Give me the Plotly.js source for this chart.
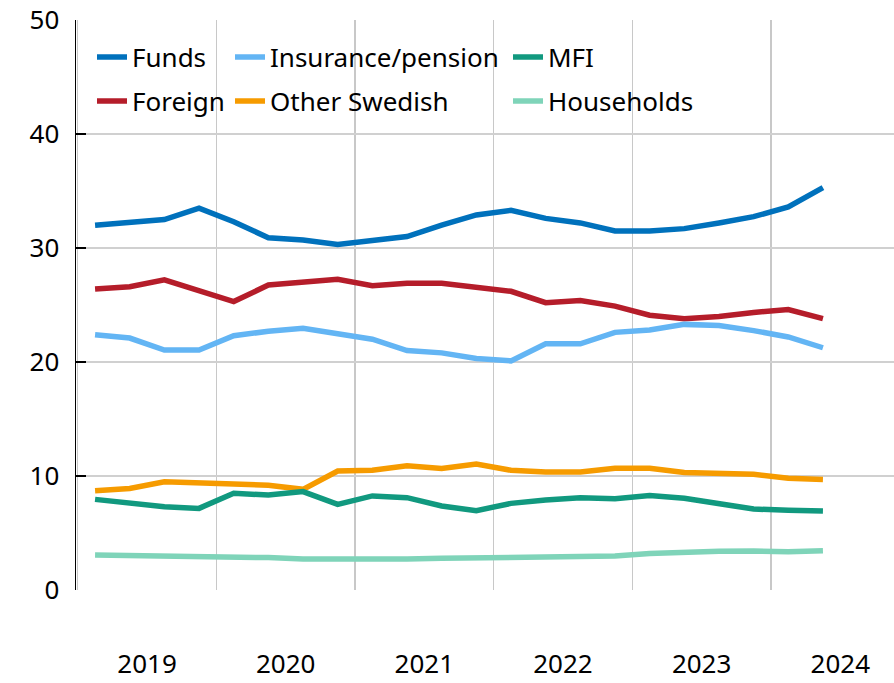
<!DOCTYPE html>
<html>
<head>
<meta charset="utf-8">
<script src="https://cdn.plot.ly/plotly-3.0.1.min.js"></script>
<style>
  html, body { margin: 0; padding: 0; background: #fff; }
  #chart { width: 894px; height: 683px; }
</style>
</head>
<body>
<div id="chart"></div>
<script>
// Quarterly observations, 2019 Q1 – 2024 Q2 (per cent)
const quarters = ["2019Q1","2019Q2","2019Q3","2019Q4","2020Q1","2020Q2","2020Q3","2020Q4",
  "2021Q1","2021Q2","2021Q3","2021Q4","2022Q1","2022Q2","2022Q3","2022Q4",
  "2023Q1","2023Q2","2023Q3","2023Q4","2024Q1","2024Q2"];
const yearLabels = ["2019","2020","2021","2022","2023","2024"];

const funds     = [32.0,32.25,32.5,33.5,32.3,30.9,30.7,30.3,30.6,31.0,32.0,32.9,33.3,32.6,32.2,31.5,31.5,31.7,32.2,32.75,33.6,35.3];
const foreign   = [26.4,26.6,27.2,26.3,25.3,26.75,26.95,27.25,26.7,26.9,26.9,26.6,26.2,25.2,25.4,24.9,24.1,23.8,24.0,24.35,24.6,23.8];
const insurance = [22.4,22.1,21.05,21.05,22.3,22.7,22.95,22.5,22.0,21.0,20.8,20.3,20.1,21.6,21.6,22.6,22.8,23.3,23.2,22.75,22.2,21.25];
const otherSwe  = [8.7,8.9,9.5,9.45,9.3,9.18,8.83,10.44,10.5,10.9,10.65,11.05,10.5,10.35,10.35,10.67,10.67,10.3,10.18,10.15,9.8,9.7];
const mfi       = [7.95,7.66,7.3,7.16,8.48,8.33,8.63,7.51,8.25,8.1,7.37,6.96,7.6,7.9,8.1,8.0,8.28,8.04,7.6,7.1,7.0,6.93];
const households= [3.07,3.04,2.98,2.9,2.86,2.84,2.72,2.69,2.63,2.72,2.78,2.84,2.84,2.9,2.95,2.98,3.21,3.33,3.39,3.42,3.36,3.45];

const xIdx = quarters.map((q, i) => i);
const yearCenters = yearLabels.map((y, i) => i * 4 + 1.5);

const FONT = "Noto Sans, DejaVu Sans, sans-serif";
const LW = 5.5;

function mk(name, y, color, legendId) {
  return {
    type: "scatter", mode: "lines", name: name, x: xIdx, y: y,
    line: { color: color, width: LW },
    legend: legendId, hoverinfo: "skip"
  };
}

const traces = [
  mk("Funds", funds, "#0071bc", "legend"),
  mk("Foreign", foreign, "#b51d2a", "legend2"),
  mk("Insurance/pension", insurance, "#63b5f4", "legend3"),
  mk("Other Swedish", otherSwe, "#f69b00", "legend4"),
  mk("MFI", mfi, "#11997f", "legend5"),
  mk("Households", households, "#7fd4b9", "legend6")
];

// plot area in pixels: left 76, right 894, top 20, bottom 590
const L = 76, R = 0, T = 20, B = 93, W = 894, H = 683;
const pw = W - L - R, ph = H - T - B;
function px(x) { return (x - L) / pw; }
function py(y) { return (H - B - y) / ph; }

function leg(xp, yp) {
  return {
    x: px(xp), y: py(yp), xanchor: "left", yanchor: "middle",
    bgcolor: "rgba(0,0,0,0)", borderwidth: 0,
    font: { family: FONT, size: 26, color: "#000" },
    itemclick: false, itemdoubleclick: false
  };
}

const layout = {
  width: W, height: H,
  margin: { l: L, r: R, t: T, b: B, pad: 0 },
  paper_bgcolor: "#fff", plot_bgcolor: "#fff",
  showlegend: true,
  legend:  leg(92, 57),
  legend2: leg(92, 101),
  legend3: leg(230, 57),
  legend4: leg(230, 101),
  legend5: leg(508, 57),
  legend6: leg(508, 101),
  xaxis: {
    range: [-0.55, 23.05],
    tickmode: "array", tickvals: yearCenters, ticktext: yearLabels,
    ticks: "", showgrid: false, zeroline: false, showline: false,
    tickfont: { family: FONT, size: 26, color: "#000" },
    ticklabelstandoff: 56,
    minor: { tick0: 3.5, dtick: 4, showgrid: true, gridcolor: "#c8c8c8", gridwidth: 1.3, ticks: "" },
    fixedrange: true
  },
  yaxis: {
    range: [0, 50], dtick: 10, tick0: 0,
    showgrid: true, gridcolor: "#d0d0d0", gridwidth: 1.3,
    zeroline: false,
    showline: true, linecolor: "#000", linewidth: 1.5,
    ticks: "inside", ticklen: 10, tickwidth: 1.5, tickcolor: "#000",
    tickfont: { family: FONT, size: 26, color: "#000" },
    ticklabelstandoff: 10,
    fixedrange: true
  }
};

Plotly.newPlot("chart", traces, layout, { displayModeBar: false, staticPlot: true });
</script>
</body>
</html>
